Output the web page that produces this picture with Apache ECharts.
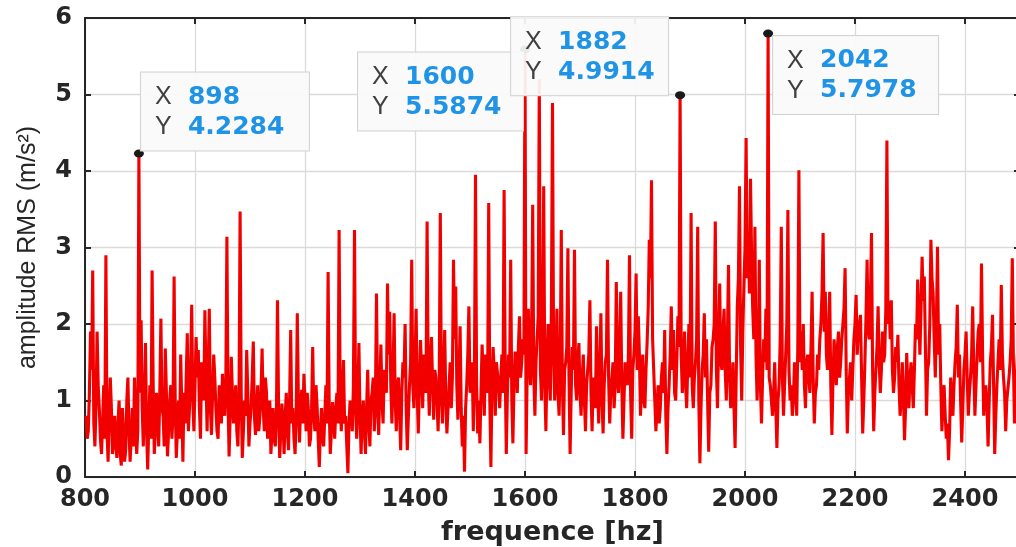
<!DOCTYPE html>
<html>
<head>
<meta charset="utf-8">
<script src="https://cdn.jsdelivr.net/npm/echarts@6/dist/echarts.min.js"></script>
<style>
html,body{margin:0;padding:0;background:#fff;}
#chart{width:1016px;height:547px;}
</style>
</head>
<body>
<div id="chart"></div>
<script>
// Sampling grid of the spectrum (Hz)
const freqStart = 802;
const freqStep = 2;

// Amplitude RMS (m/s^2), one value per 2 Hz sample
const amplitude = [
  // 802 - 900
  0.8,0.5,0.6,1.1,1.9,1.4,2.7,0.7,0.4,0.9,1.9,1.2,0.9,0.5,0.3,0.7,1.2,0.5,2.9,0.6,0.2,0.8,1.3,0.9,0.3,0.5,0.8,0.4,0.25,0.7,1.0,0.3,0.15,0.9,0.6,0.2,0.35,1.0,1.3,0.6,0.2,0.5,0.9,0.4,1.3,0.8,0.3,0.6,4.2284,1.1,
  // 902 - 1000
  2.05,0.9,0.4,1.0,1.75,0.6,0.1,0.7,1.2,0.5,2.7,1.2,0.3,0.6,1.1,0.8,0.4,1.1,2.07,0.9,0.8,0.4,1.68,1.1,0.27,0.6,1.0,1.2,0.5,0.8,2.62,1.0,0.25,0.6,1.0,0.5,1.6,0.9,0.2,1.1,0.7,1.3,1.88,0.6,0.9,1.4,2.25,1.0,0.6,1.2,
  // 1002 - 1100
  1.83,1.3,1.66,0.9,0.5,1.5,1.2,1.0,2.18,1.3,0.6,1.4,2.2,0.9,0.55,1.1,1.6,1.3,0.9,0.6,0.5,1.2,1.0,0.7,1.35,1.0,0.8,1.2,3.14,1.0,0.27,0.8,1.57,1.1,0.7,0.9,1.2,0.6,0.4,1.0,3.47,1.1,0.25,0.6,1.0,0.8,1.66,1.1,0.4,0.7,
  // 1102 - 1200
  0.9,1.3,1.77,0.8,0.55,0.9,1.2,0.6,0.8,1.1,1.68,0.9,0.6,1.3,1.1,0.5,0.7,1.0,0.3,0.6,0.9,0.5,0.4,0.8,2.31,0.9,0.25,0.6,0.96,0.7,0.3,0.8,1.1,0.6,0.35,1.0,1.92,0.7,0.9,0.5,0.3,0.8,2.14,1.0,0.45,0.9,1.14,0.7,1.35,1.0,
  // 1202 - 1300
  0.6,1.1,0.9,0.4,0.5,0.9,1.7,0.8,0.6,1.2,0.92,0.5,0.13,0.6,0.9,0.5,0.4,0.8,1.2,0.7,2.68,0.9,0.3,0.6,0.98,0.8,0.5,0.9,1.1,0.7,3.23,1.0,0.6,1.1,1.53,0.7,0.8,0.4,0.05,0.7,1.0,0.9,0.6,1.2,3.23,0.9,0.5,1.0,1.75,0.8,
  // 1302 - 1400
  0.3,0.8,1.0,0.6,0.3,0.9,1.4,0.7,0.4,1.0,1.1,1.3,0.6,1.0,2.4,0.9,0.55,1.2,1.73,1.0,0.7,1.4,1.2,1.1,2.53,1.6,2.16,1.2,0.7,1.3,2.14,1.0,0.6,1.2,1.3,0.8,0.35,1.1,1.5,1.3,2.0,0.9,0.35,0.8,1.2,1.5,2.84,1.2,0.9,1.4,
  // 1402 - 1500
  2.2,1.1,0.57,1.2,1.79,1.4,0.9,1.6,1.5,1.1,3.34,1.3,0.8,1.5,1.83,1.2,0.75,1.4,1.3,1.0,0.6,1.2,3.45,1.1,0.7,1.4,1.92,1.0,0.57,0.9,1.2,1.5,0.9,1.3,2.84,1.8,2.49,1.2,0.75,1.3,1.97,0.9,0.4,0.8,0.07,0.9,1.2,1.6,2.23,1.1,
  // 1502 - 1600
  1.2,1.5,0.6,1.3,3.95,1.2,0.57,1.0,0.44,1.1,1.73,1.3,0.8,1.6,1.4,1.1,3.58,1.0,0.13,1.2,1.7,1.4,0.8,1.5,1.5,1.2,0.9,1.3,1.6,1.1,3.75,1.4,0.3,1.1,1.6,1.3,2.84,1.0,0.44,1.2,1.64,1.5,1.1,1.7,2.1,1.3,1.5,1.8,1.6,5.5874,
  // 1602 - 1700
  0.3,1.4,2.2,1.6,1.2,1.9,3.56,1.3,0.8,1.5,1.5,2.1,5.2,1.4,1.0,1.8,3.8,1.2,0.6,1.5,2.0,1.3,1.0,2.2,4.89,1.6,1.0,1.4,2.2,1.1,0.8,1.5,3.23,1.2,0.55,1.4,1.5,1.7,2.99,1.3,0.3,1.1,1.7,1.4,2.97,1.2,1.0,1.5,1.75,1.1,
  // 1702 - 1800
  0.8,1.3,1.6,1.0,0.6,1.2,1.4,1.6,2.31,1.1,0.6,1.3,1.2,0.9,1.97,1.2,0.7,1.4,2.14,1.0,0.57,1.2,1.5,1.6,2.84,1.3,0.7,1.1,1.3,1.5,0.9,1.2,2.55,1.4,1.1,1.7,2.42,1.2,0.5,1.0,1.5,1.3,1.2,1.6,2.9,1.1,0.5,1.4,1.6,1.9,
  // 1802 - 1900
  2.66,1.4,2.1,1.6,0.8,1.2,1.6,1.0,0.9,1.4,1.75,2.2,3.1,2.6,3.88,1.8,1.4,1.0,0.6,0.9,1.2,0.7,0.9,1.3,1.5,1.1,1.92,0.8,0.3,0.9,1.2,1.6,2.23,1.4,1.92,1.1,1.0,1.5,2.1,1.7,4.9914,1.6,1.1,1.4,1.9,1.2,0.9,1.5,2.0,1.3,
  // 1902 - 2000
  3.45,1.2,0.9,1.3,1.5,1.8,3.27,1.0,0.18,0.9,1.4,1.6,2.14,1.3,1.8,1.0,0.33,1.1,1.2,1.7,1.8,2.0,3.34,1.4,0.9,1.8,2.53,1.5,1.4,1.9,2.2,1.4,1.0,1.8,2.77,1.3,0.9,1.1,1.5,0.9,0.38,1.3,2.23,2.6,3.8,1.7,1.0,1.9,2.5,3.0,
  // 2002 - 2100
  4.43,2.6,3.2,2.4,3.9,2.9,2.2,1.8,3.27,1.6,1.0,1.5,2.84,1.2,0.7,1.3,1.8,1.5,2.2,1.4,5.7978,1.3,1.2,1.0,0.8,1.1,1.5,0.9,0.38,1.0,1.2,1.8,3.27,1.3,0.8,1.2,1.6,2.0,3.49,1.4,1.0,1.2,0.8,1.0,1.5,1.3,0.8,1.7,4.01,1.5,
  // 2102 - 2200
  1.9,1.4,2.0,1.2,0.9,1.5,1.6,1.3,1.1,1.7,2.42,1.3,0.7,1.1,1.2,1.6,1.4,1.8,2.0,2.4,3.19,1.9,2.42,1.6,1.4,1.9,2.42,1.2,0.55,1.3,1.8,1.5,1.2,1.7,1.9,1.3,1.5,1.8,2.0,2.2,2.73,1.4,0.57,1.1,1.3,1.5,1.0,1.4,1.8,2.0,
  // 2202 - 2300
  2.38,1.6,1.9,2.0,2.12,1.3,0.57,1.0,1.5,2.1,2.84,1.9,1.8,2.3,3.19,1.4,0.6,1.1,1.4,1.7,2.23,1.5,1.1,1.4,1.9,1.5,1.6,2.2,4.4,2.0,2.3,1.8,2.31,1.4,1.1,1.3,1.7,1.5,1.86,1.2,0.8,1.0,1.5,1.1,0.48,0.9,1.62,1.2,0.9,1.3,
  // 2302 - 2400
  1.5,1.2,0.9,1.4,2.0,1.8,2.58,2.1,1.6,2.2,2.88,2.3,2.62,1.7,0.8,1.4,1.5,2.0,3.1,2.6,2.4,1.8,1.3,2.0,3.01,1.6,2.0,1.2,0.6,1.0,1.2,0.8,0.5,0.7,0.22,0.6,1.3,1.0,0.8,1.2,1.5,1.7,2.25,1.3,1.6,1.0,0.45,0.9,1.4,1.6,
  // 2402 - 2500
  1.9,1.3,0.8,1.1,1.3,1.6,2.23,1.4,0.8,1.2,1.6,1.9,2.0,1.5,2.79,1.6,0.8,1.1,1.2,0.9,0.4,1.0,1.5,1.7,2.12,1.2,0.3,0.8,1.2,1.5,1.8,1.4,2.51,1.6,1.3,1.1,0.6,1.0,1.0,1.3,1.5,1.8,2.86,1.5,0.7,1.1,1.4,1.7,1.0,1.3
];

// Axis ranges / ticks
const xMin = 800, xMax = 2500, xInterval = 200;
const yMin = 0, yMax = 6, yInterval = 1;

// Data tips
const tipFreq = [898, 1600, 1882, 2042];
const tipAmp = [4.2284, 5.5874, 4.9914, 5.7978];

// Data-tip box placement (style only)
const tipOffsets = [[7, -77], [-162, 7], [-164, -74], [10, 6.5]];
const tipWidths = [140, 137, 129, 137];

const seriesData = amplitude.map((v, i) => [freqStart + i * freqStep, v]);

const dark = '#262626';
const tickFont = {fontFamily: 'DejaVu Sans', fontWeight: 'bold', fontSize: 24, color: dark};

function frameAxis(extra) {
  return Object.assign({
    type: 'value',
    axisLine: {show: true, onZero: false, lineStyle: {color: dark, width: 2}},
    axisTick: {show: true, inside: true, length: 6, lineStyle: {color: dark, width: 2}},
    splitLine: {show: false},
    axisLabel: {show: false}
  }, extra);
}

const chart = echarts.init(document.getElementById('chart'), null, {renderer: 'canvas'});
chart.setOption({
  animation: false,
  backgroundColor: '#ffffff',
  grid: {left: 85, top: 18, right: -4, bottom: 70, containLabel: false, outerBoundsMode: 'none'},
  xAxis: [
    frameAxis({
      position: 'bottom', min: xMin, max: xMax, interval: xInterval,
      axisLabel: Object.assign({show: true, margin: 11, showMaxLabel: false,
        formatter: v => String(v)}, tickFont),
      splitLine: {show: true, lineStyle: {color: '#dadada', width: 1.3}},
      name: 'frequence [hz]', nameLocation: 'middle', nameGap: 42,
      nameTextStyle: {fontFamily: 'DejaVu Sans', fontWeight: 'bold', fontSize: 27, color: dark}
    }),
    frameAxis({position: 'top', min: xMin, max: xMax, interval: xInterval})
  ],
  yAxis: [
    frameAxis({
      position: 'left', min: yMin, max: yMax, interval: yInterval,
      axisLabel: Object.assign({show: true, margin: 13, padding: [10, 0, 0, 0],
        formatter: v => String(v)}, tickFont),
      splitLine: {show: true, lineStyle: {color: '#dadada', width: 1.3}},
      name: 'amplitude RMS (m/s²)', nameLocation: 'middle', nameGap: 44, nameRotate: 90,
      nameTextStyle: {fontFamily: 'Liberation Sans', fontSize: 25, color: dark}
    }),
    frameAxis({position: 'right', min: yMin, max: yMax, interval: yInterval})
  ],
  series: [{
    type: 'line',
    data: seriesData,
    showSymbol: false,
    symbol: 'none',
    silent: true,
    lineStyle: {color: '#f20000', width: 3.1},
    emphasis: {disabled: true},
    markPoint: {
      silent: true,
      symbol: 'circle',
      symbolSize: [10, 8],
      itemStyle: {color: '#1a1a1a'},
      data: tipFreq.map((f, i) => ({
        coord: [f, tipAmp[i]],
        label: {
          show: true,
          position: tipOffsets[i],
          align: 'left',
          verticalAlign: 'top',
          width: tipWidths[i],
          backgroundColor: 'rgba(250,250,250,0.93)',
          borderColor: '#d2d2d2',
          borderWidth: 1,
          padding: [10, 14, 8, 14],
          formatter: '{k|X}{v|' + f + '}\n{k|Y}{v|' + tipAmp[i].toFixed(4) + '}',
          rich: {
            k: {fontFamily: 'Liberation Sans', fontSize: 25, color: '#404040', width: 33, lineHeight: 30},
            v: {fontFamily: 'DejaVu Sans', fontWeight: 'bold', fontSize: 25, color: '#1f93e6', lineHeight: 30}
          }
        }
      }))
    }
  }]
});
</script>
</body>
</html>
